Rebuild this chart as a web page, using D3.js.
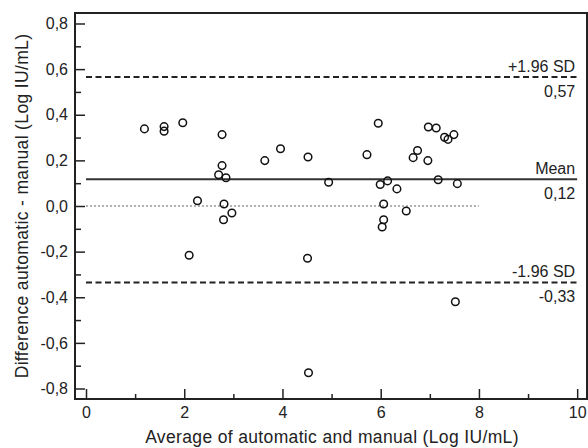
<!DOCTYPE html>
<html>
<head>
<meta charset="utf-8">
<script src="https://cdn.jsdelivr.net/npm/d3@7"></script>
<style>
  body { margin: 0; background: #fff; }
  text { font-family: "Liberation Sans", Arial, sans-serif; fill: #222; }
</style>
</head>
<body>
<div id="chart"></div>
<script>
// data: average (x) and difference (y)
var avgValues = [1.19, 1.59, 1.59, 1.97, 2.10, 2.27, 2.70, 2.77, 2.77, 2.85, 2.81, 2.80, 2.97,
  3.64, 3.96, 4.52, 4.51, 4.53, 4.94, 5.72, 5.95, 5.99, 6.14, 6.33, 6.06, 6.52, 6.06, 6.03,
  6.66, 6.75, 6.96, 6.97, 7.13, 7.30, 7.37, 7.49, 7.17, 7.56, 7.52];
var diffValues = [0.338, 0.348, 0.328, 0.365, -0.216, 0.023, 0.137, 0.313, 0.177, 0.124, 0.009, -0.060, -0.031,
  0.199, 0.251, 0.215, -0.229, -0.731, 0.104, 0.225, 0.363, 0.094, 0.110, 0.075, 0.009, -0.022, -0.060, -0.092,
  0.212, 0.243, 0.199, 0.346, 0.342, 0.301, 0.292, 0.313, 0.115, 0.098, -0.420];

// reference lines
var refNames = ['+1.96 SD', 'Mean', '-1.96 SD'];
var refValues = [0.566, 0.117, -0.335];
var refLabels = ['0,57', '0,12', '-0,33'];

var xMajorTicks = [0, 2, 4, 6, 8, 10];
var xMinorTicks = [1, 3, 5, 7, 9];
var yMajorTicks = [-0.8, -0.6, -0.4, -0.2, 0, 0.2, 0.4, 0.6, 0.8];
var yMinorTicks = [-0.7, -0.5, -0.3, -0.1, 0.1, 0.3, 0.5, 0.7];

var w = 588, h = 448;
var plotL = 75, plotR = 587, plotT = 13, plotB = 399;

var locale = d3.formatLocale({ decimal: ',', thousands: '.', grouping: [3], currency: ['', ''], minus: '-' });
var fmtY = locale.format('.1f');

var x = d3.scaleLinear().domain([-0.224, 10.2]).range([plotL, plotR]);
var y = d3.scaleLinear().domain([-0.846, 0.846]).range([plotB, plotT]);

var svg = d3.select('#chart').append('svg')
  .attr('width', w)
  .attr('height', h);

// zero line (dotted, only up to 8)
svg.append('line')
  .attr('x1', x(0)).attr('x2', x(8))
  .attr('y1', y(0)).attr('y2', y(0))
  .attr('stroke', '#999')
  .attr('stroke-width', 1.6)
  .attr('stroke-dasharray', '2,2');

// mean and limits
svg.selectAll('.ref-line')
  .data(refValues)
  .enter()
  .append('line')
    .attr('class', 'ref-line')
    .attr('x1', x(0)).attr('x2', x(10))
    .attr('y1', function(d) { return y(d); })
    .attr('y2', function(d) { return y(d); })
    .attr('stroke', function(d, i) { return i == 1 ? '#333' : '#222'; })
    .attr('stroke-width', 2)
    .attr('stroke-dasharray', function(d, i) { return i == 1 ? null : '6,3.5'; });

svg.selectAll('.ref-name')
  .data(refValues)
  .enter()
  .append('text')
    .attr('class', 'ref-name')
    .attr('x', x(10) - 2)
    .attr('y', function(d) { return y(d) - 5; })
    .attr('text-anchor', 'end')
    .style('font-size', '16px')
    .text(function(d, i) { return refNames[i]; });

svg.selectAll('.ref-value')
  .data(refValues)
  .enter()
  .append('text')
    .attr('class', 'ref-value')
    .attr('x', x(10) - 2)
    .attr('y', function(d) { return y(d) + 20; })
    .attr('text-anchor', 'end')
    .style('font-size', '16px')
    .text(function(d, i) { return refLabels[i]; });

// points
svg.selectAll('.pt')
  .data(avgValues)
  .enter()
  .append('circle')
    .attr('class', 'pt')
    .attr('cx', function(d) { return x(d); })
    .attr('cy', function(d, i) { return y(diffValues[i]); })
    .attr('r', 3.8)
    .attr('fill', 'none')
    .attr('stroke', '#111')
    .attr('stroke-width', 1.5);

// axes (ticks point inward)
var xAxis = svg.append('g')
  .attr('transform', 'translate(0,' + plotB + ')')
  .call(d3.axisBottom(x).tickValues(xMajorTicks).tickSize(-10).tickPadding(8).tickFormat(d3.format('d')));
var xMinor = svg.append('g')
  .attr('transform', 'translate(0,' + plotB + ')')
  .call(d3.axisBottom(x).tickValues(xMinorTicks).tickSize(-5).tickFormat(''));
var yAxis = svg.append('g')
  .attr('transform', 'translate(' + plotL + ',0)')
  .call(d3.axisLeft(y).tickValues(yMajorTicks).tickSize(-10).tickPadding(7).tickFormat(fmtY));
var yMinor = svg.append('g')
  .attr('transform', 'translate(' + plotL + ',0)')
  .call(d3.axisLeft(y).tickValues(yMinorTicks).tickSize(-6).tickFormat(''));

[xAxis, xMinor, yAxis, yMinor].forEach(function(g) {
  g.select('.domain').remove();
  g.selectAll('.tick line').attr('stroke', '#222').attr('stroke-width', 1.5);
  g.selectAll('.tick text')
    .style('font-family', '"Liberation Sans", Arial, sans-serif')
    .style('font-size', '16px')
    .attr('fill', '#222');
});

// frame
svg.append('rect')
  .attr('x', plotL).attr('y', plotT)
  .attr('width', plotR - plotL).attr('height', plotB - plotT)
  .attr('fill', 'none')
  .attr('stroke', '#222')
  .attr('stroke-width', 2);

// axis titles
svg.append('text')
  .attr('x', 332)
  .attr('y', 443)
  .attr('text-anchor', 'middle')
  .style('font-size', '17.5px')
  .style('letter-spacing', '0.35px')
  .text('Average of automatic and manual (Log IU/mL)');

svg.append('text')
  .attr('transform', 'translate(28,206) rotate(-90)')
  .attr('text-anchor', 'middle')
  .style('font-size', '17.5px')
  .style('letter-spacing', '0.35px')
  .text('Difference automatic - manual (Log IU/mL)');
</script>
</body>
</html>
